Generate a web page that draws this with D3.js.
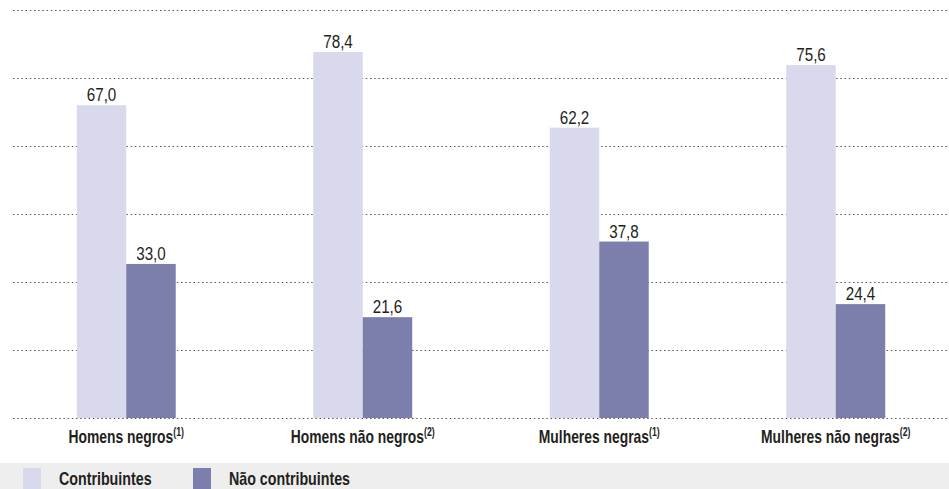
<!DOCTYPE html>
<html>
<head>
<meta charset="utf-8">
<script src="https://cdn.jsdelivr.net/npm/d3@7"></script>
<style>
  body { margin: 0; background: #fff; }
  svg { display: block; }
  text { font-family: "Liberation Sans", Arial, sans-serif; fill: #231f20; }
</style>
</head>
<body>
<svg id="chart" width="949" height="489"></svg>
<script>
const categories = ["Homens negros", "Homens não negros", "Mulheres negras", "Mulheres não negras"];
const notes = ["(1)", "(2)", "(1)", "(2)"];
const seriesNames = ["Contribuintes", "Não contribuintes"];
const contribuintes = [67.0, 78.4, 62.2, 75.6];
const naoContribuintes = [33.0, 21.6, 37.8, 24.4];
const colors = ["#d9d9ee", "#7c7fac"];

const svg = d3.select("#chart");
const W = 949, H = 489;
const plot = { left: 8, right: 954, top: 10, bottom: 418 };
const yMax = 87.4;
const SX_REG = 0.8, SX_BOLD = 0.73;

const x0 = d3.scaleBand().domain(categories).range([plot.left, plot.right]).padding(0);
const x1 = d3.scaleBand().domain(seriesNames).range([0, x0.bandwidth()]).paddingInner(0).paddingOuter(1.39);
const y = d3.scaleLinear().domain([0, yMax]).range([plot.bottom, plot.top]);

// gridlines
const grid = d3.range(7).map(i => i * yMax / 6);
svg.append("g").selectAll("line").data(grid).join("line")
  .attr("x1", 13).attr("x2", 947)
  .attr("y1", d => Math.round(y(d)) + 0.5).attr("y2", d => Math.round(y(d)) + 0.5)
  .attr("stroke", "#555").attr("stroke-width", 1).attr("stroke-dasharray", "1.5,2.7");

const data = categories.map((c, i) => ({ cat: c, note: notes[i], vals: [contribuintes[i], naoContribuintes[i]] }));

const groups = svg.append("g").selectAll("g").data(data).join("g")
  .attr("transform", d => `translate(${x0(d.cat)},0)`);

groups.selectAll("rect").data(d => d.vals.map((v, j) => ({ s: seriesNames[j], v, j }))).join("rect")
  .attr("x", d => x1(d.s)).attr("width", x1.bandwidth())
  .attr("y", d => y(d.v)).attr("height", d => y(0) - y(d.v))
  .attr("fill", d => colors[d.j]);

groups.selectAll("text.val").data(d => d.vals.map((v, j) => ({ s: seriesNames[j], v, j }))).join("text")
  .attr("class", "val")
  .attr("transform", d => `translate(${x1(d.s) + x1.bandwidth() / 2},${y(d.v) - 4}) scale(${SX_REG},1)`)
  .attr("text-anchor", "middle")
  .attr("font-size", 19)
  .text(d => d3.format(".1f")(d.v).replace(".", ","));

// category labels
const cl = groups.append("text")
  .attr("transform", `translate(${x0.bandwidth() / 2},443) scale(${SX_BOLD},1)`)
  .attr("text-anchor", "middle")
  .attr("font-size", 19).attr("font-weight", "bold");
cl.append("tspan").text(d => d.cat);
cl.append("tspan").attr("font-size", 12).attr("dy", -7).text(d => d.note);

// legend
svg.append("rect").attr("x", 0).attr("y", 463).attr("width", W).attr("height", H - 463).attr("fill", "#eeeeee");
const legendX = [23, 193];
const lg = svg.append("g").selectAll("g").data(seriesNames).join("g")
  .attr("transform", (d, i) => `translate(${legendX[i]},0)`);
lg.append("rect").attr("x", 0).attr("y", 468).attr("width", 18).attr("height", 21)
  .attr("fill", (d, i) => colors[i]);
lg.append("text").attr("transform", `translate(36,485) scale(0.75,1)`)
  .attr("font-size", 19).attr("font-weight", "bold").text(d => d);
</script>
</body>
</html>
